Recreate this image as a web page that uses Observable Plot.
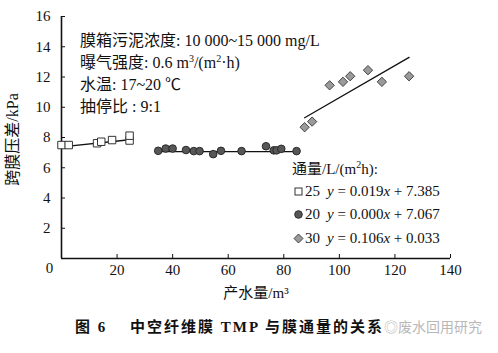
<!DOCTYPE html>
<html>
<head>
<meta charset="utf-8">
<script src="https://cdn.jsdelivr.net/npm/d3@7"></script>
<script src="https://cdn.jsdelivr.net/npm/@observablehq/plot@0.6"></script>
<style>
  body { margin: 0; background: #fff; }
  #wrap { position: relative; width: 498px; height: 353px; font-family: "Liberation Serif", "Noto Sans CJK SC", serif; color: #111; }
  .ann { position: absolute; left: 80px; font-size: 16px; line-height: 18px; white-space: nowrap; }
  .leg { position: absolute; font-size: 15px; line-height: 17px; white-space: nowrap; }
  .leg svg { vertical-align: -1px; }
  #caption { position: absolute; left: 75px; top: 315px; font-size: 15px; font-weight: bold; white-space: nowrap; letter-spacing: 2px; }
  #wm { position: absolute; left: 384px; top: 316px; font-size: 14px; color: #b8b8b8; white-space: nowrap; font-family: "Noto Sans CJK SC", sans-serif; }
  sup { font-size: 10px; vertical-align: 6px; line-height: 0; }
</style>
</head>
<body>
<div id="wrap"></div>
<script>
// ---- data ----
const xTicks = [20, 40, 60, 80, 100, 120, 140];
const yTicks = [2, 4, 6, 8, 10, 12, 14, 16];
const fluxLabels = ["25", "20", "30"];
const slopes = [0.019, 0.000, 0.106];
const intercepts = [7.385, 7.067, 0.033];

const flux25X = [0, 2.6, 12.8, 14.3, 18.2, 24.5, 24.5];
const flux25Y = [7.5, 7.5, 7.62, 7.72, 7.83, 7.8, 8.12];

const flux20X = [34.8, 37.5, 40.0, 44.8, 47.6, 49.7, 54.6, 57.4, 64.8, 73.6, 76.4, 77.4, 79.1, 84.6];
const flux20Y = [7.12, 7.27, 7.27, 7.17, 7.1, 7.1, 6.9, 7.12, 7.1, 7.42, 7.15, 7.15, 7.25, 7.1];

const flux30X = [87.5, 90.2, 96.5, 101.3, 103.9, 110.3, 115.3, 125.1];
const flux30Y = [8.68, 9.05, 11.45, 11.68, 12.05, 12.45, 11.68, 12.05];

const annotationLines = [
  "膜箱污泥浓度: 10 000~15 000 mg/L",
  "曝气强度: 0.6 m<sup>3</sup>/(m<sup>2</sup>·h)",
  "水温: 17~20 ℃",
  "抽停比 : 9:1"
];
const xLabel = "产水量/m³";
const yLabel = "跨膜压差/kPa";
const legendTitle = "通量/L/(m<sup>2</sup>h):";
const captionText = "图 6　 中空纤维膜 TMP 与膜通量的关系";
const watermarkText = "废水回用研究";

// ---- build ----
const toPts = (xs, ys) => xs.map((x, i) => ({x, y: ys[i]}));
const s25 = toPts(flux25X, flux25Y);
const s20 = toPts(flux20X, flux20Y);
const s30 = toPts(flux30X, flux30Y);
const series = [s25, s20, s30];
const trend = series.map((s, i) => {
  const [lo, hi] = d3.extent(s, d => d.x);
  return [lo, hi].map(x => ({x, y: slopes[i] * x + intercepts[i]}));
});

const font = `"Liberation Serif", "Noto Sans CJK SC", serif`;
const chart = Plot.plot({
  width: 498,
  height: 310,
  marginLeft: 61,
  marginRight: 48,
  marginTop: 16,
  marginBottom: 52,
  style: {fontFamily: font, fontSize: "15px", color: "#111", background: "#fff"},
  x: {domain: [0, 140]},
  y: {domain: [0, 16]},
  marks: [
    Plot.axisX({ticks: xTicks, tickSize: -4, tickPadding: 10, label: null, fontSize: 15, stroke: "#111"}),
    Plot.axisY({ticks: yTicks, tickSize: -4, tickPadding: 15, label: null, fontSize: 15, stroke: "#111"}),
    Plot.text([0], {x: 0, y: 0, text: d => String(d), dx: -12, dy: 10, fontSize: 15}),
    Plot.ruleX([0], {stroke: "#111", strokeWidth: 1.6}),
    Plot.ruleY([0], {stroke: "#111", strokeWidth: 1.6}),
    ...trend.map(t => Plot.line(t, {x: "x", y: "y", stroke: "#111", strokeWidth: 1.3})),
    Plot.dot(s25, {x: "x", y: "y", symbol: "square", r: 4.2, fill: "#fff", stroke: "#333", strokeWidth: 1}),
    Plot.dot(s20, {x: "x", y: "y", symbol: "circle", r: 3.8, fill: "#575757", stroke: "#2a2a2a", strokeWidth: 1}),
    Plot.dot(s30, {x: "x", y: "y", symbol: "diamond2", r: 4.2, fill: "#9a9a9a", stroke: "#444", strokeWidth: 1}),
    Plot.text([xLabel], {frameAnchor: "bottom", dy: 39, text: d => d, fontSize: 15}),
    Plot.text([yLabel], {frameAnchor: "left", textAnchor: "middle", dx: -49, dy: 2, rotate: -90, text: d => d, fontSize: 16})
  ]
});

const wrap = document.getElementById("wrap");
wrap.appendChild(chart);

// annotations
const annTops = [32, 54, 76, 98];
annotationLines.forEach((t, i) => {
  const d = document.createElement("div");
  d.className = "ann";
  d.style.top = annTops[i] + "px";
  d.innerHTML = t;
  wrap.appendChild(d);
});

// legend
const lt = document.createElement("div");
lt.className = "leg";
lt.style.left = "292px";
lt.style.top = "161px";
lt.innerHTML = legendTitle;
wrap.appendChild(lt);

const symbols = [
  `<rect x="2" y="2" width="7" height="7" fill="#fff" stroke="#333"/>`,
  `<circle cx="5.5" cy="5.5" r="3.8" fill="#575757" stroke="#2a2a2a"/>`,
  `<path d="M5.5,1 L10,5.5 L5.5,10 L1,5.5Z" fill="#9a9a9a" stroke="#444"/>`
];
const rowTops = [183, 206, 230];
fluxLabels.forEach((lab, i) => {
  const d = document.createElement("div");
  d.className = "leg";
  d.style.left = "293px";
  d.style.top = rowTops[i] + "px";
  const slope = slopes[i].toFixed(3), icpt = intercepts[i].toFixed(3);
  d.innerHTML = `<svg width="11" height="11">${symbols[i]}</svg><span style="margin-left:1px">${lab}</span>` +
    `<span style="margin-left:7px"><i>y</i> = ${slope}<i>x</i> + ${icpt}</span>`;
  wrap.appendChild(d);
});

// caption & watermark
const cap = document.createElement("div");
cap.id = "caption";
cap.textContent = captionText;
wrap.appendChild(cap);
const wm = document.createElement("div");
wm.id = "wm";
wm.textContent = "◎" + watermarkText;
wrap.appendChild(wm);
</script>
</body>
</html>
